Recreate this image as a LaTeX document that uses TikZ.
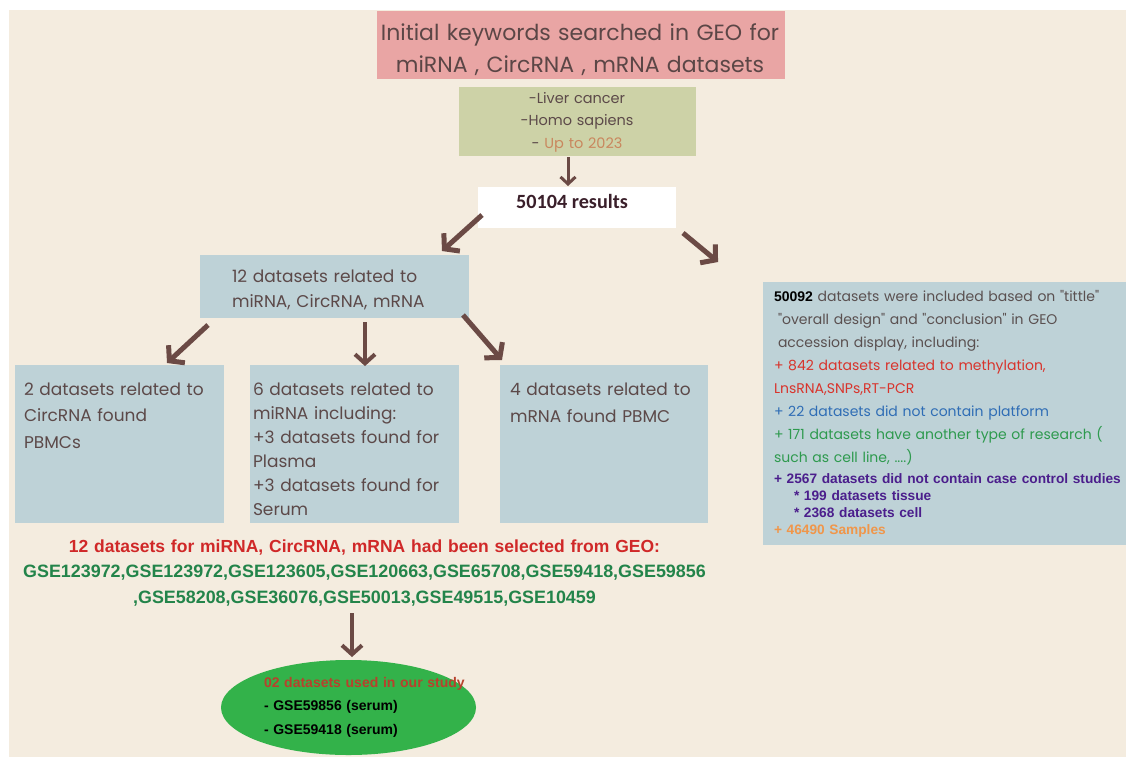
\documentclass[tikz,border=0pt]{standalone}
\usepackage{fontspec}
\usetikzlibrary{arrows.meta,calc,shapes.geometric}
\newfontfamily\geo{Poppins}
\newfontfamily\ari{Liberation Sans}
\newfontfamily\carl{Carlito}
\definecolor{cream}{HTML}{F4ECDF}
\definecolor{pinkc}{HTML}{E9A5A4}
\definecolor{olivec}{HTML}{CDD2A7}
\definecolor{bluec}{HTML}{BED2D7}
\definecolor{arrowc}{HTML}{6B4A45}
\definecolor{txt}{HTML}{5C4949}
\definecolor{titlec}{HTML}{5B4646}
\definecolor{orangec}{HTML}{C9875E}
\definecolor{resc}{HTML}{3A1F2A}
\definecolor{graytxt}{HTML}{5A5050}
\definecolor{redr}{HTML}{D8342C}
\definecolor{bluer}{HTML}{2F6DB5}
\definecolor{greenr}{HTML}{2E9A4E}
\definecolor{purpler}{HTML}{4B1E8C}
\definecolor{oranger}{HTML}{F0964A}
\definecolor{redb}{HTML}{D02828}
\definecolor{greenb}{HTML}{23844A}
\definecolor{ellg}{HTML}{33B24A}
\definecolor{elltxt}{HTML}{B8412C}
\begin{document}
\begin{tikzpicture}[x=1pt,y=-1pt,
  box/.style={inner sep=0pt, outer sep=0pt},
  tx/.style={inner sep=0pt, outer sep=0pt, anchor=base west, align=left, text width=#1},
  tx/.default=230pt,
  ctx/.style={inner sep=0pt, outer sep=0pt, anchor=base, align=center, text width=#1},
  bigarr/.style={draw=arrowc, line width=5pt, -{Straight Barb[length=10pt,width=24pt]}},
  midarr/.style={draw=arrowc, line width=4pt, -{Straight Barb[length=9pt,width=20pt]}},
  thinarr/.style={draw=arrowc, line width=3pt, -{Straight Barb[length=7pt,width=15pt]}}]
\useasboundingbox (0,0) rectangle (1126,758);
\fill[white] (0,0) rectangle (1126,758);
\fill[cream] (9,10) rectangle (1126,757);

% boxes
\node[box,fill=pinkc,minimum width=408pt,minimum height=68pt] (title) at (580.5,44.5) {};
\node[box,fill=olivec,minimum width=237pt,minimum height=69pt] (kw) at (577.5,121.5) {};
\node[box,fill=white,minimum width=198pt,minimum height=41pt] (res) at (577,207.5) {};
\node[box,fill=bluec,minimum width=269pt,minimum height=63pt] (ds12) at (334.5,286.5) {};
\node[box,fill=bluec,minimum width=209pt,minimum height=158pt] (circ) at (119.5,444) {};
\node[box,fill=bluec,minimum width=209pt,minimum height=158pt] (mirna) at (354.5,444) {};
\node[box,fill=bluec,minimum width=208pt,minimum height=158pt] (mrna) at (604,444) {};
\node[box,fill=bluec,minimum width=363pt,minimum height=263pt] (excl) at (944.5,413.5) {};
\node[box,fill=ellg,ellipse,minimum width=255pt,minimum height=95pt] (used) at (348.5,707.5) {};

% texts
\node[ctx=420pt, text=titlec, font=\geo\fontsize{22}{32}\selectfont] (titletxt) at (580,40) {Initial keywords searched in GEO for\par miRNA , CircRNA , mRNA datasets\par};
\node[ctx=230pt, text=txt, font=\geo\fontsize{14.5}{22.5}\selectfont] (kwtxt) at (577,103) {-Liver cancer\par -Homo sapiens\par - \textcolor{orangec}{Up to 2023}\par};
\node[inner sep=0pt, anchor=base, text=resc, font=\carl\bfseries\fontsize{20.2}{22}\selectfont] (restxt) at (572,208) {50104 results};
\node[tx, text=txt, font=\geo\fontsize{17}{25}\selectfont] (ds12txt) at (232,282) {12 datasets related to\par miRNA, CircRNA, mRNA\par};
\node[tx=200pt, text=txt, font=\geo\fontsize{17}{26.5}\selectfont] (circtxt) at (24,395) {2 datasets related to\par CircRNA found\par PBMCs\par};
\node[tx=205pt, text=txt, font=\geo\fontsize{17}{24}\selectfont] (mirnatxt) at (253,395) {6 datasets related to\par miRNA including:\par +3 datasets found for\par Plasma\par +3 datasets found for\par Serum\par};
\node[tx=198pt, text=txt, font=\geo\fontsize{17}{27}\selectfont] (mrnatxt) at (510,395) {4 datasets related to\par mRNA found PBMC\par};

\node[tx=352pt, font=\geo\fontsize{14}{23}\selectfont] (excltxt) at (774,301) {%
\textcolor{black}{\ari\bfseries 50092} \textcolor{graytxt}{datasets were included based on "tittle"}\par
\textcolor{graytxt}{\hspace*{4pt}"overall design" and "conclusion" in GEO}\par
\textcolor{graytxt}{\hspace*{4pt}accession display, including:}\par
\textcolor{redr}{+ 842 datasets related to methylation,}\par
\textcolor{redr}{LnsRNA,SNPs,RT-PCR}\par
\textcolor{bluer}{+ 22 datasets did not contain platform}\par
\textcolor{greenr}{+ 171 datasets have another type of research (}\par
\textcolor{greenr}{such as cell line, ....)}\par
{\ari\bfseries\fontsize{13.7}{21}\selectfont\textcolor{purpler}{+ 2567 datasets did not contain case control studies}\par}
{\ari\bfseries\fontsize{13.7}{17}\selectfont\textcolor{purpler}{\hspace*{20pt}* 199 datasets tissue}\par}
{\ari\bfseries\fontsize{13.7}{17.5}\selectfont\textcolor{purpler}{\hspace*{20pt}* 2368 datasets cell}\par}
{\ari\bfseries\fontsize{13.7}{17}\selectfont\textcolor{oranger}{+ 46490 Samples}\par}};

\node[ctx=720pt, font=\ari\bfseries\fontsize{17.5}{25.5}\selectfont] (sel) at (364.5,552) {%
\textcolor{redb}{12 datasets for miRNA, CircRNA, mRNA had been selected from GEO:}\par
{\fontsize{17.9}{25.5}\selectfont\textcolor{greenb}{GSE123972,GSE123972,GSE123605,GSE120663,GSE65708,GSE59418,GSE59856}\par
\textcolor{greenb}{,GSE58208,GSE36076,GSE50013,GSE49515,GSE10459}\par}};

\node[tx=210pt, font=\ari\bfseries\fontsize{14}{23.5}\selectfont] (usedtxt) at (264,687) {%
\textcolor{elltxt}{02 datasets used in our study}\par
\textcolor{black}{- GSE59856 (serum)}\par
\textcolor{black}{- GSE59418 (serum)}\par};

% connectors
\draw[thinarr] ($(kw.south)+(-9.5,1)$) -- ($(res.north)+(-9,-1)$);
\draw[bigarr] ($(res.west)+(4,7.5)$) -- ($(ds12.north)+(107.5,-4)$);
\draw[bigarr] ($(res.east)+(7,25.5)$) -- ($(excl.north)+(-226.5,-20)$);
\draw[bigarr] ($(ds12.south)+(-126.5,7)$) -- ($(circ.north)+(47.5,-2)$);
\draw[midarr] ($(ds12.south)+(30.5,4)$) -- ($(mirna.north)+(10.5,1)$);
\draw[bigarr] ($(ds12.south)+(128.5,-3)$) -- ($(mrna.north)+(-102,-5)$);
\draw[midarr] ($(used.north)+(3.5,-47)$) -- ($(used.north)+(3.5,-3)$);
\end{tikzpicture}
\end{document}
